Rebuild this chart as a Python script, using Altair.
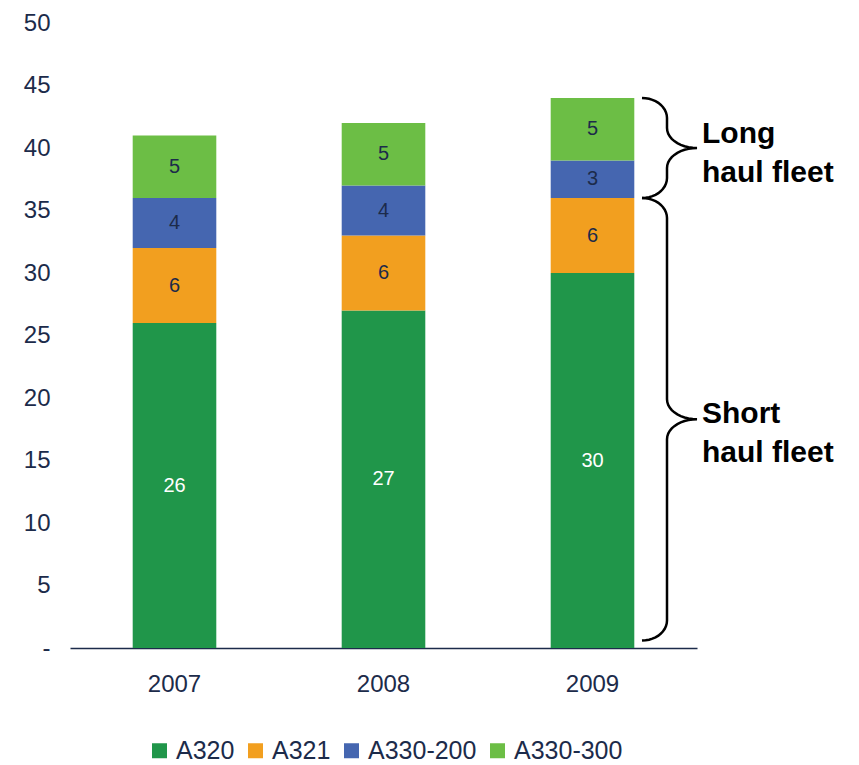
import altair as alt
import pandas as pd
import numpy as np

years = ["2007", "2008", "2009"]
types = ["A320", "A321", "A330-200", "A330-300"]
a320 = [26, 27, 30]
a321 = [6, 6, 6]
a330_200 = [4, 4, 3]
a330_300 = [5, 5, 5]
colors = ["#20964A", "#F29F1F", "#4566B0", "#6CBE45"]
label_colors = ["#FFFFFF", "#1C2B4A", "#1C2B4A", "#1C2B4A"]

brace_names = ["Long\nhaul fleet", "Short\nhaul fleet"]
brace_top = [44, 36]
brace_bot = [36, 0.6]
brace_text_y = [40.4, 18.0]

W, H = 627, 625
NAVY = "#1C2B4A"
FONT = "Liberation Sans"

rows = []
series = [a320, a321, a330_200, a330_300]
for i, y in enumerate(years):
    for k, t in enumerate(types):
        rows.append({"year": y, "type": t, "n": series[k][i], "ord": k, "lc": label_colors[k]})
df = pd.DataFrame(rows)

# brace geometry (decoration), x in plot pixels, y in data units
kpx = H / 50.0
def brace(top, bot, gid):
    x0, xm, xt = 572, 597, 627
    ry = 20 / kpx
    mid = (top + bot) / 2
    t = np.linspace(0, np.pi / 2, 12)
    pts = []
    pts += list(zip(x0 + (xm - x0) * np.sin(t), top - ry * (1 - np.cos(t))))
    pts += list(zip(xm + (xt - xm) * (1 - np.cos(t)), mid + ry - ry * np.sin(t)))
    pts += list(zip(xm + (xt - xm) * (1 - np.cos(t[::-1])), mid - ry + ry * np.sin(t[::-1])))
    pts += list(zip(x0 + (xm - x0) * np.sin(t[::-1]), bot + ry * (1 - np.cos(t[::-1]))))
    return [{"bx": float(a), "by": float(b), "i": j, "g": gid} for j, (a, b) in enumerate(pts)]

brows = []
for gi in range(len(brace_names)):
    brows += brace(brace_top[gi], brace_bot[gi], gi)
bdf = pd.DataFrame(brows)
tdf = pd.DataFrame({"txt": brace_names, "ty": brace_text_y})

ysc = alt.Scale(domain=[0, 50])
base = alt.Chart(df)
bars = base.mark_bar().encode(
    x=alt.X("year:N", title=None, scale=alt.Scale(paddingInner=0.6, paddingOuter=0.3),
            axis=alt.Axis(labelAngle=0, ticks=False, domain=True, domainColor=NAVY, domainWidth=1.5,
                          labelPadding=24, labelFontSize=24, labelColor=NAVY, labelFont=FONT)),
    y=alt.Y("n:Q", stack="zero", scale=ysc, title=None,
            axis=alt.Axis(values=list(range(0, 51, 5)), grid=False, ticks=False, domain=False,
                          labelExpr="datum.value == 0 ? '-' : datum.label", labelPadding=20,
                          minExtent=57, labelFontSize=24, labelColor=NAVY, labelFont=FONT)),
    color=alt.Color("type:N", scale=alt.Scale(domain=types, range=colors),
                    legend=alt.Legend(title=None, orient="none", legendX=77, legendY=715,
                                      direction="horizontal",
                                      symbolType="square", symbolSize=225, symbolStrokeWidth=0,
                                      labelFontSize=25, labelColor=NAVY, labelFont=FONT,
                                      columnPadding=8, symbolOffset=0, labelOffset=4, padding=0)),
    order=alt.Order("ord:Q"),
)
labels = base.transform_stack(
    stack="n", groupby=["year"], as_=["s0", "s1"], sort=[alt.SortField("ord", order="ascending")]
).transform_calculate(mid="(datum.s0 + datum.s1) / 2").mark_text(
    fontSize=20, font=FONT, baseline="middle"
).encode(
    x="year:N",
    y=alt.Y("mid:Q", scale=ysc),
    text="n:Q",
    color=alt.Color("lc:N", scale=None),
)

braces = alt.Chart(bdf).mark_line(color="black", strokeWidth=2.5, clip=False).encode(
    x=alt.X("bx:Q", scale=alt.Scale(domain=[0, W]), axis=None),
    y=alt.Y("by:Q", scale=ysc),
    detail="g:N",
    order="i:Q",
)
btext = alt.Chart(tdf).mark_text(align="left", baseline="alphabetic", fontSize=30, fontWeight="bold",
                                 font=FONT, lineBreak="\n", lineHeight=39, color="black").encode(
    x=alt.value(632),
    y=alt.Y("ty:Q", scale=ysc),
    text="txt:N",
)

chart = alt.layer(alt.layer(bars, labels), braces, btext).resolve_scale(x="independent").properties(
    width=W, height=H, padding={"top": 3, "left": 5, "right": 5, "bottom": 5}
).configure_view(stroke=None)

chart.save("out.html", embed_options={"renderer": "svg", "actions": False})
